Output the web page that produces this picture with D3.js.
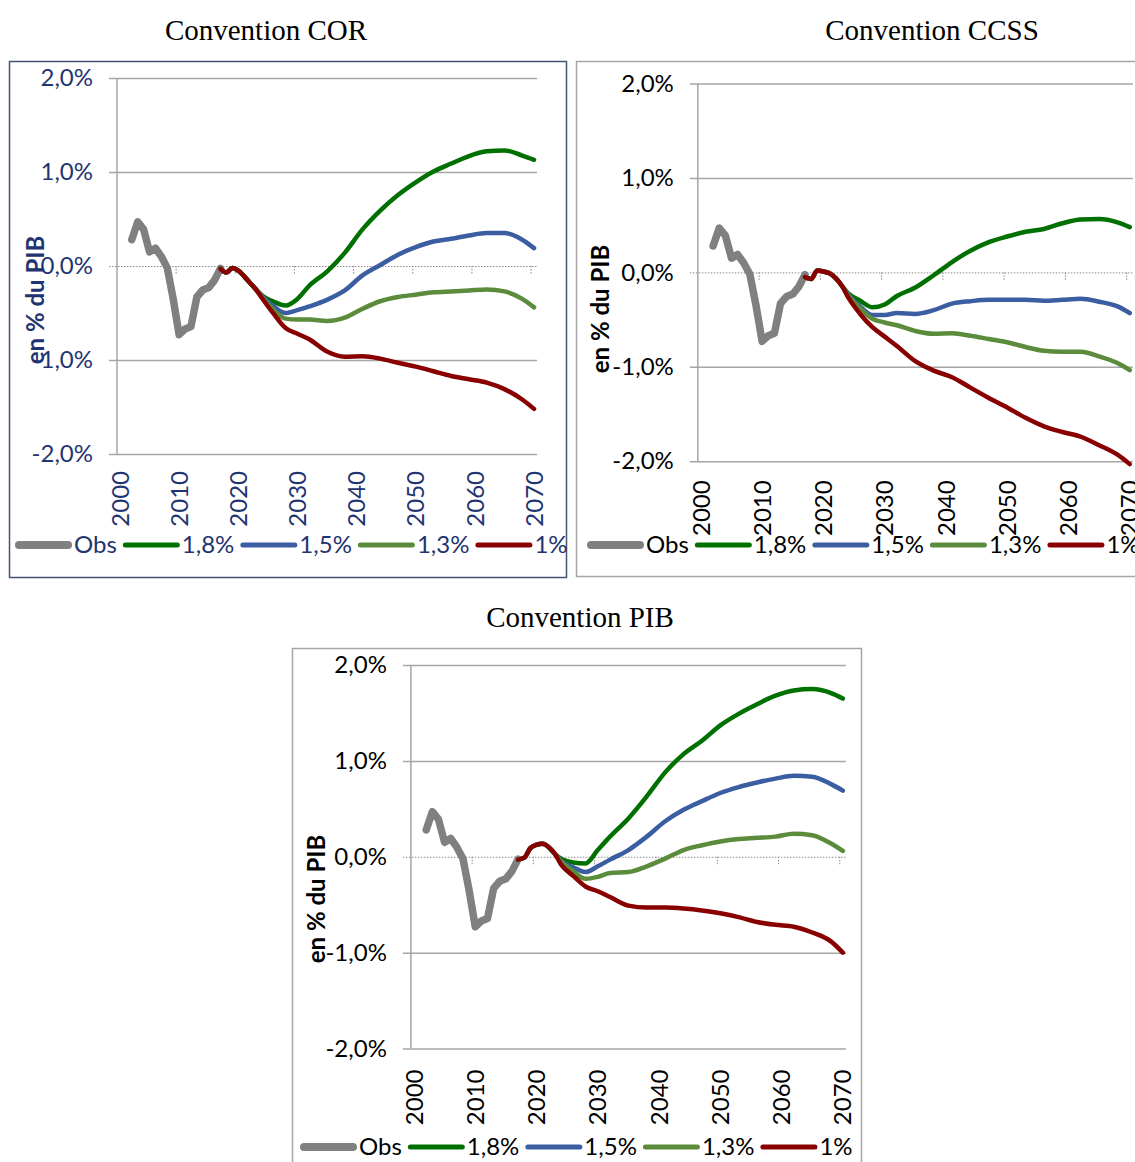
<!DOCTYPE html>
<html>
<head>
<meta charset="utf-8">
<script src="https://cdn.jsdelivr.net/npm/d3@7"></script>
<style>
  body { margin: 0; background: #fff; }
  svg { display: block; }
</style>
</head>
<body>
<script>
// ---- Data ---------------------------------------------------------------
// Category axis: one slot per year
const years = d3.range(2000, 2071);
const xTickYears = [2000, 2010, 2020, 2030, 2040, 2050, 2060, 2070];
const yTicks = [2, 1, 0, -1, -2];
const yTickLabels = ["2,0%", "1,0%", "0,0%", "-1,0%", "-2,0%"];
const legendLabels = ["Obs", "1,8%", "1,5%", "1,3%", "1%"];

// Observed balance (% of GDP)
const obsYears = [2002, 2003, 2004, 2005, 2006, 2007, 2008, 2009, 2010, 2011, 2012, 2013, 2014, 2015, 2016, 2017];
const obsValues = [0.28, 0.47, 0.39, 0.15, 0.19, 0.10, -0.02, -0.35, -0.73, -0.67, -0.645, -0.33, -0.255, -0.23, -0.15, -0.025];

// Projection years shared by every scenario
const projYears = [2017, 2018, 2019, 2020, 2021, 2022, 2023, 2024, 2026, 2028, 2030, 2032, 2035, 2038, 2041, 2044, 2047, 2050, 2053, 2056, 2059, 2062, 2065, 2068, 2070];

// Convention COR
const cor18 = [-0.03, -0.07, -0.02, -0.05, -0.11, -0.18, -0.25, -0.31, -0.38, -0.42, -0.35, -0.21, -0.06, 0.14, 0.39, 0.59, 0.755, 0.89, 1.005, 1.09, 1.17, 1.22, 1.23, 1.175, 1.13];
const cor15 = [-0.03, -0.07, -0.02, -0.05, -0.11, -0.18, -0.25, -0.32, -0.43, -0.50, -0.47, -0.43, -0.36, -0.26, -0.10, 0.01, 0.12, 0.20, 0.26, 0.29, 0.325, 0.35, 0.35, 0.28, 0.19];
const cor13 = [-0.03, -0.07, -0.02, -0.05, -0.11, -0.18, -0.25, -0.33, -0.47, -0.56, -0.57, -0.57, -0.585, -0.55, -0.455, -0.375, -0.33, -0.305, -0.28, -0.27, -0.26, -0.25, -0.27, -0.35, -0.44];
const cor10 = [-0.03, -0.07, -0.02, -0.05, -0.11, -0.18, -0.25, -0.34, -0.51, -0.66, -0.72, -0.78, -0.91, -0.965, -0.96, -0.985, -1.03, -1.07, -1.12, -1.17, -1.205, -1.24, -1.31, -1.42, -1.52];

// Convention CCSS
const ccss18 = [-0.05, -0.07, 0.02, 0.01, -0.01, -0.06, -0.14, -0.22, -0.30, -0.37, -0.34, -0.25, -0.16, -0.03, 0.11, 0.23, 0.32, 0.38, 0.43, 0.46, 0.52, 0.56, 0.565, 0.53, 0.48];
const ccss15 = [-0.05, -0.07, 0.02, 0.01, -0.01, -0.06, -0.14, -0.23, -0.36, -0.45, -0.45, -0.43, -0.44, -0.40, -0.33, -0.305, -0.29, -0.29, -0.29, -0.30, -0.29, -0.28, -0.31, -0.36, -0.43];
const ccss13 = [-0.05, -0.07, 0.02, 0.01, -0.01, -0.06, -0.14, -0.24, -0.38, -0.49, -0.53, -0.56, -0.62, -0.65, -0.645, -0.67, -0.705, -0.74, -0.79, -0.83, -0.84, -0.84, -0.89, -0.96, -1.035];
const ccss10 = [-0.05, -0.07, 0.02, 0.01, -0.01, -0.06, -0.14, -0.26, -0.44, -0.58, -0.68, -0.78, -0.94, -1.04, -1.11, -1.22, -1.33, -1.43, -1.54, -1.63, -1.69, -1.74, -1.83, -1.93, -2.03];

// Convention PIB
const pib18 = [-0.03, -0.01, 0.09, 0.125, 0.135, 0.10, 0.03, -0.02, -0.06, -0.07, 0.07, 0.21, 0.40, 0.63, 0.88, 1.07, 1.21, 1.37, 1.49, 1.59, 1.68, 1.735, 1.75, 1.71, 1.65];
const pib15 = [-0.03, -0.01, 0.09, 0.125, 0.135, 0.10, 0.03, -0.04, -0.11, -0.16, -0.10, -0.03, 0.07, 0.21, 0.37, 0.49, 0.58, 0.665, 0.727, 0.775, 0.815, 0.845, 0.835, 0.76, 0.69];
const pib13 = [-0.03, -0.01, 0.09, 0.125, 0.135, 0.10, 0.03, -0.05, -0.15, -0.23, -0.21, -0.17, -0.16, -0.10, -0.02, 0.07, 0.12, 0.16, 0.185, 0.197, 0.21, 0.24, 0.225, 0.14, 0.06];
const pib10 = [-0.03, -0.01, 0.09, 0.125, 0.135, 0.10, 0.03, -0.08, -0.20, -0.31, -0.36, -0.42, -0.51, -0.53, -0.53, -0.54, -0.56, -0.59, -0.63, -0.68, -0.71, -0.73, -0.79, -0.88, -1.00];

// ---- Styles -------------------------------------------------------------
const lineColors = ["#808080", "#007000", "#3b5ea2", "#5a8c3c", "#880000"];
const lineWidths = [7.5, 4.5, 4.5, 4.5, 4.5];
const tickFont = "Lato, 'Open Sans', sans-serif";
const titleFont = "'Liberation Serif', 'DejaVu Serif', serif";
const fontSize = "24px";

const panels = [
  {
    title: "Convention COR", titleX: 266, titleY: 40,
    box: [9.5, 61.5, 557, 516], frame: "#44536f", ink: "#1f3470",
    axisX: 117, plotW: 420, yTop: 78, yBot: 454, xLabelGap: 17,
    yTitleX: 44, yTitleY: 300,
    legendX: 15, legendY: 545,
    scenarios: [cor18, cor15, cor13, cor10]
  },
  {
    title: "Convention CCSS", titleX: 932, titleY: 40,
    box: [576.5, 61.5, 600, 515], frame: "#a6a6a6", ink: "#000",
    axisX: 697.8, plotW: 435, yTop: 83.5, yBot: 461.3, xLabelGap: 19,
    yTitleX: 609, yTitleY: 309,
    legendX: 587, legendY: 545,
    scenarios: [ccss18, ccss15, ccss13, ccss10]
  },
  {
    title: "Convention PIB", titleX: 580, titleY: 627,
    box: [292.5, 648.5, 569, 560], frame: "#a6a6a6", ink: "#000",
    axisX: 410.9, plotW: 435, yTop: 665, yBot: 1048.5, xLabelGap: 21,
    yTitleX: 325, yTitleY: 899,
    legendX: 300, legendY: 1147,
    scenarios: [pib18, pib15, pib13, pib10]
  }
];

const svg = d3.select("body").append("svg")
  .attr("width", 1135).attr("height", 1162);

function drawPanel(p) {
  const g = svg.append("g");

  g.append("rect")
    .attr("x", p.box[0]).attr("y", p.box[1])
    .attr("width", p.box[2]).attr("height", p.box[3])
    .attr("fill", "#fff").attr("stroke", p.frame).attr("stroke-width", 1.5);

  svg.append("text")
    .attr("x", p.titleX).attr("y", p.titleY)
    .attr("text-anchor", "middle")
    .style("font-family", titleFont).style("font-size", "29px").attr("fill", "#000")
    .text(p.title);

  const x = d3.scaleBand().domain(years).range([p.axisX, p.axisX + p.plotW]);
  const y = d3.scaleLinear().domain([-2, 2]).range([p.yBot, p.yTop]);
  const cx = yr => x(yr) + x.bandwidth() / 2;

  // Value axis with gridlines across the plot
  const yAxis = g.append("g")
    .attr("transform", `translate(${p.axisX - 8},0)`)
    .call(d3.axisLeft(y).tickValues(yTicks)
      .tickFormat(d => yTickLabels[yTicks.indexOf(d)])
      .tickSize(-(p.plotW + 8)).tickPadding(16));
  yAxis.select(".domain").remove();
  yAxis.selectAll(".tick line")
    .attr("stroke", d => d === 0 ? "#8c8c8c" : "#a6a6a6")
    .attr("stroke-width", d => d === 0 ? 1 : 1.5)
    .attr("stroke-dasharray", d => d === 0 ? "1.5,1.5" : null);
  yAxis.selectAll(".tick text")
    .style("font-family", tickFont).style("font-size", fontSize).attr("fill", p.ink);

  // Vertical axis line
  g.append("line")
    .attr("x1", p.axisX).attr("x2", p.axisX)
    .attr("y1", p.yTop).attr("y2", p.yBot)
    .attr("stroke", "#a6a6a6").attr("stroke-width", 1.5);

  // Small dotted ticks hanging under the zero line
  g.selectAll(".zt").data(xTickYears.slice(1)).join("line")
    .attr("x1", d => x(d)).attr("x2", d => x(d))
    .attr("y1", y(0)).attr("y2", y(0) + 8)
    .attr("stroke", "#8c8c8c").attr("stroke-width", 1)
    .attr("stroke-dasharray", "1.5,1.5");

  // Year labels at the bottom, rotated
  const xAxis = g.append("g")
    .attr("transform", `translate(0,${p.yBot})`)
    .call(d3.axisBottom(x).tickValues(xTickYears).tickSize(0));
  xAxis.select(".domain").remove();
  xAxis.selectAll(".tick text")
    .attr("transform", "rotate(-90)")
    .attr("x", -p.xLabelGap).attr("y", 0).attr("dy", "0.36em")
    .style("text-anchor", "end")
    .style("font-family", tickFont).style("font-size", fontSize).attr("fill", p.ink);

  // Axis title
  svg.append("text")
    .attr("transform", `translate(${p.yTitleX},${p.yTitleY}) rotate(-90)`)
    .attr("text-anchor", "middle")
    .style("font-family", tickFont).style("font-size", fontSize).style("font-weight", "bold")
    .attr("fill", p.ink)
    .text("en % du PIB");

  // Series
  const obsLine = d3.line().x((d, i) => cx(obsYears[i])).y(d => y(d)).curve(d3.curveLinear);
  const projLine = d3.line().x((d, i) => cx(projYears[i])).y(d => y(d)).curve(d3.curveMonotoneX);

  g.append("path").attr("d", obsLine(obsValues))
    .attr("fill", "none").attr("stroke", lineColors[0]).attr("stroke-width", lineWidths[0])
    .attr("stroke-linejoin", "round").attr("stroke-linecap", "round");

  p.scenarios.forEach((vals, k) => {
    g.append("path").attr("d", projLine(vals))
      .attr("fill", "none").attr("stroke", lineColors[k + 1]).attr("stroke-width", lineWidths[k + 1])
      .attr("stroke-linejoin", "round").attr("stroke-linecap", "round");
  });

  // Legend
  let lx = p.legendX;
  const sw = 57;
  legendLabels.forEach((lab, k) => {
    const w = lineWidths[k] + 0.5;
    g.append("line")
      .attr("x1", lx + w / 2).attr("x2", lx + sw - w / 2)
      .attr("y1", p.legendY).attr("y2", p.legendY)
      .attr("stroke", lineColors[k]).attr("stroke-width", w).attr("stroke-linecap", "round");
    const t = g.append("text")
      .attr("x", lx + sw + 2).attr("y", p.legendY).attr("dy", "0.35em")
      .style("font-family", tickFont).style("font-size", fontSize).attr("fill", p.ink)
      .text(lab);
    lx += sw + 2 + t.node().getComputedTextLength() + 6;
  });
}

panels.forEach(drawPanel);
</script>
</body>
</html>
